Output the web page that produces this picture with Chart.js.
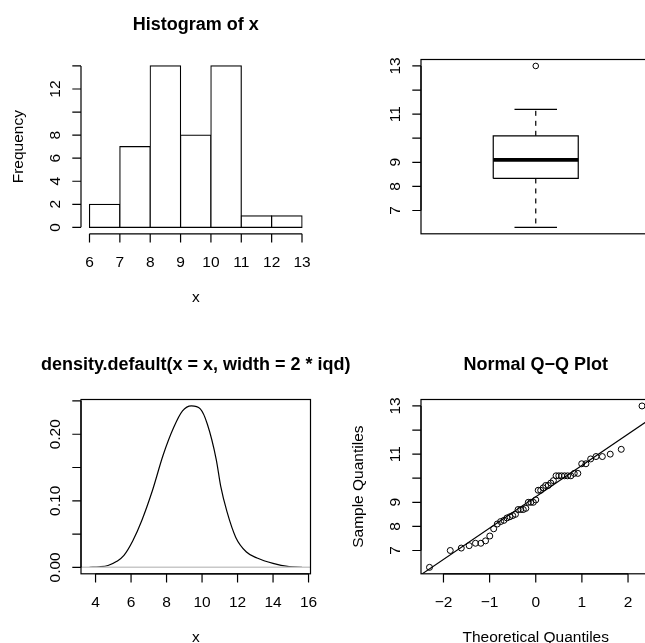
<!DOCTYPE html>
<html>
<head>
<meta charset="utf-8">
<script src="https://cdn.jsdelivr.net/npm/chart.js@4.4.1/dist/chart.umd.min.js"></script>
<style>
  html, body { margin: 0; padding: 0; background: #fff; }
  body { width: 645px; height: 643px; overflow: hidden; position: relative; }
  canvas { position: absolute; }
</style>
</head>
<body>
<canvas id="hist" width="400" height="341" style="left:0;top:0"></canvas>
<canvas id="box" width="400" height="341" style="left:340px;top:0"></canvas>
<canvas id="dens" width="400" height="341" style="left:0;top:340px"></canvas>
<canvas id="qq" width="400" height="341" style="left:340px;top:340px"></canvas>
<script>
// histogram of x
const histBreaks = [6, 7, 8, 9, 10, 11, 12, 13];
const histCounts = [2, 7, 14, 8, 14, 1, 1];

// boxplot: lower whisker, Q1, median, Q3, upper whisker
const boxStats = [6.3, 8.33, 9.1, 10.1, 11.2];
const boxOutliers = [13.0];

// density curve
const densX = [3.66, 4.2, 4.7, 5.2, 5.6, 6.1, 6.6, 7.2, 7.8, 8.4, 8.9, 9.4, 9.9, 10.3, 10.8, 11.05, 11.4, 11.9, 12.5, 13.1, 14.0, 14.9, 15.63];
const densY = [0.0, 0.0008, 0.0028, 0.009, 0.018, 0.040, 0.070, 0.115, 0.168, 0.210, 0.235, 0.2425, 0.238, 0.215, 0.162, 0.122, 0.084, 0.045, 0.023, 0.014, 0.006, 0.0012, 0.0];

// normal Q-Q
const qqTheo = [-2.303, -1.853, -1.614, -1.443, -1.306, -1.190, -1.088, -0.996, -0.912, -0.834, -0.761, -0.691, -0.625, -0.561, -0.500, -0.440, -0.382, -0.326, -0.270, -0.215, -0.161, -0.107, -0.053, 0, 0.053, 0.107, 0.161, 0.215, 0.270, 0.326, 0.382, 0.440, 0.500, 0.561, 0.625, 0.691, 0.761, 0.834, 0.912, 0.996, 1.088, 1.190, 1.306, 1.443, 1.614, 1.853, 2.303];
const qqSample = [6.3, 7.0, 7.1, 7.2, 7.3, 7.3, 7.4, 7.6, 7.9, 8.1, 8.2, 8.25, 8.35, 8.4, 8.45, 8.5, 8.7, 8.7, 8.7, 8.75, 9.0, 9.0, 9.0, 9.1, 9.5, 9.5, 9.6, 9.7, 9.7, 9.8, 9.9, 10.1, 10.1, 10.1, 10.1, 10.1, 10.1, 10.2, 10.2, 10.6, 10.6, 10.8, 10.9, 10.9, 11.0, 11.2, 13.0];
const qqLineEnds = [[-2.6, 5.85], [2.6, 12.61]];

// ticks and labels
const histXTicks = [6, 7, 8, 9, 10, 11, 12, 13];
const histXLabels = ['6', '7', '8', '9', '10', '11', '12', '13'];
const histYTicks = [0, 2, 4, 6, 8, 10, 12, 14];
const histYLabels = ['0', '2', '4', '6', '8', '', '12', ''];
const sampleTicks = [7, 8, 9, 10, 11, 12, 13];
const sampleLabels = ['7', '8', '9', '', '11', '', '13'];
const densXTicks = [4, 6, 8, 10, 12, 14, 16];
const densXLabels = ['4', '6', '8', '10', '12', '14', '16'];
const densYTicks = [0, 0.05, 0.10, 0.15, 0.20, 0.25];
const densYLabels = ['0.00', '', '0.10', '', '0.20', ''];
const qqXTicks = [-2, -1, 0, 1, 2];
const qqXLabels = ['\u22122', '\u22121', '0', '1', '2'];

const FONT = '"Liberation Sans", Arimo, Arial, sans-serif';

// R style axes, frame and titles, placed with the chart's own scales
const rStyle = {
  id: 'rStyle',
  afterDraw(chart, args, o) {
    const ctx = chart.ctx, a = chart.chartArea;
    const sx = chart.scales.x, sy = chart.scales.y;
    const cx = (a.left + a.right) / 2, cy = (a.top + a.bottom) / 2;
    ctx.save();
    ctx.strokeStyle = '#000';
    ctx.fillStyle = '#000';
    ctx.lineWidth = 1.2;
    if (o.frame) ctx.strokeRect(a.left, a.top, a.right - a.left, a.bottom - a.top);
    ctx.font = '15.5px ' + FONT;
    ctx.textBaseline = 'alphabetic';
    if (o.xTicks) {
      const px = o.xTicks.map(v => sx.getPixelForValue(v));
      ctx.beginPath();
      ctx.moveTo(px[0], a.bottom);
      ctx.lineTo(px[px.length - 1], a.bottom);
      px.forEach(p => { ctx.moveTo(p, a.bottom); ctx.lineTo(p, a.bottom + 8.7); });
      ctx.stroke();
      ctx.textAlign = 'center';
      px.forEach((p, i) => ctx.fillText(o.xLabels[i], p, a.bottom + 32.7));
    }
    if (o.yTicks) {
      const py = o.yTicks.map(v => sy.getPixelForValue(v));
      ctx.beginPath();
      ctx.moveTo(a.left, py[0]);
      ctx.lineTo(a.left, py[py.length - 1]);
      py.forEach(p => { ctx.moveTo(a.left, p); ctx.lineTo(a.left - 8.7, p); });
      ctx.stroke();
      py.forEach((p, i) => {
        if (!o.yLabels[i]) return;
        ctx.save();
        ctx.translate(a.left - 21, p);
        ctx.rotate(-Math.PI / 2);
        ctx.textAlign = 'center';
        ctx.fillText(o.yLabels[i], 0, 0);
        ctx.restore();
      });
    }
    if (o.xTitle) {
      ctx.textAlign = 'center';
      ctx.fillText(o.xTitle, cx, a.bottom + 68);
    }
    if (o.yTitle) {
      ctx.save();
      ctx.translate(a.left - 58.5, cy);
      ctx.rotate(-Math.PI / 2);
      ctx.textAlign = 'center';
      ctx.fillText(o.yTitle, 0, 0);
      ctx.restore();
    }
    if (o.title) {
      ctx.font = 'bold 18px ' + FONT;
      ctx.textAlign = 'center';
      ctx.fillText(o.title, cx, a.top - 30);
    }
    ctx.restore();
  }
};

function panelOptions(xr, yr, deco, xTickOpts) {
  return {
    responsive: false,
    animation: false,
    devicePixelRatio: 1,
    events: [],
    layout: { padding: { left: 81, top: 59.5, right: 89.5, bottom: 107.2 } },
    plugins: { legend: { display: false }, tooltip: { enabled: false }, rStyle: deco },
    scales: {
      x: { type: 'linear', display: false, min: xr[0], max: xr[1], offset: false, ticks: xTickOpts || {} },
      y: { type: 'linear', display: false, min: yr[0], max: yr[1] }
    }
  };
}

function line(points, extra) {
  return Object.assign({
    type: 'line', data: points.map(p => ({x: p[0], y: p[1]})),
    showLine: true, pointRadius: 0, borderColor: '#000', borderWidth: 1.2, fill: false
  }, extra || {});
}

// 1. histogram
new Chart(document.getElementById('hist'), {
  type: 'bar',
  data: {
    datasets: [{
      data: histCounts.map((c, i) => ({x: (histBreaks[i] + histBreaks[i + 1]) / 2, y: c})),
      backgroundColor: '#fff',
      borderColor: '#000',
      borderWidth: 1.2,
      borderSkipped: false,
      inflateAmount: 0.6,
      barPercentage: 1,
      categoryPercentage: 1
    }]
  },
  options: panelOptions([5.72, 13.28], [-0.56, 14.56], {
    xTicks: histXTicks, xLabels: histXLabels, yTicks: histYTicks, yLabels: histYLabels,
    title: 'Histogram of x', xTitle: 'x', yTitle: 'Frequency'
  }, { stepSize: 1, includeBounds: false }),
  plugins: [rStyle]
});

// 2. boxplot
const [bLo, bQ1, bMed, bQ3, bHi] = boxStats;
const boxHalf = 0.2, stapleHalf = 0.1;
new Chart(document.getElementById('box'), {
  type: 'scatter',
  data: {
    datasets: [
      line([[1 - boxHalf, bMed], [1 + boxHalf, bMed]], { borderWidth: 3.6 }),
      line([[1 - boxHalf, bQ1], [1 + boxHalf, bQ1], [1 + boxHalf, bQ3], [1 - boxHalf, bQ3], [1 - boxHalf, bQ1]]),
      line([[1, bQ3], [1, bHi]], { borderDash: [5, 5] }),
      line([[1, bQ1], [1, bLo]], { borderDash: [5, 5] }),
      line([[1 - stapleHalf, bHi], [1 + stapleHalf, bHi]]),
      line([[1 - stapleHalf, bLo], [1 + stapleHalf, bLo]]),
      {
        data: boxOutliers.map(v => ({x: 1, y: v})),
        pointRadius: 2.8, borderWidth: 1, borderColor: '#000', backgroundColor: 'rgba(0,0,0,0)'
      }
    ]
  },
  options: panelOptions([0.46, 1.54], [6.032, 13.268], {
    frame: true, yTicks: sampleTicks, yLabels: sampleLabels
  }),
  plugins: [rStyle]
});

// 3. density
const densRange = [3.18, 16.11];
new Chart(document.getElementById('dens'), {
  type: 'scatter',
  data: {
    datasets: [
      line([[densRange[0], 0], [densRange[1], 0]], { borderColor: '#c8c8c8', borderWidth: 1.5 }),
      line(densX.map((x, i) => [x, densY[i]]), { cubicInterpolationMode: 'monotone' })
    ]
  },
  options: panelOptions(densRange, [-0.0097, 0.2522], {
    frame: true, xTicks: densXTicks, xLabels: densXLabels, yTicks: densYTicks, yLabels: densYLabels,
    title: 'density.default(x = x, width = 2 * iqd)', xTitle: 'x'
  }),
  plugins: [rStyle]
});

// 4. normal Q-Q plot
new Chart(document.getElementById('qq'), {
  type: 'scatter',
  data: {
    datasets: [
      {
        data: qqTheo.map((t, i) => ({x: t, y: qqSample[i]})),
        pointRadius: 3, borderWidth: 1, borderColor: '#000', backgroundColor: 'rgba(0,0,0,0)'
      },
      line(qqLineEnds)
    ]
  },
  options: panelOptions([-2.487, 2.487], [6.032, 13.268], {
    frame: true, xTicks: qqXTicks, xLabels: qqXLabels, yTicks: sampleTicks, yLabels: sampleLabels,
    title: 'Normal Q\u2212Q Plot', xTitle: 'Theoretical Quantiles', yTitle: 'Sample Quantiles'
  }),
  plugins: [rStyle]
});
</script>
</body>
</html>
